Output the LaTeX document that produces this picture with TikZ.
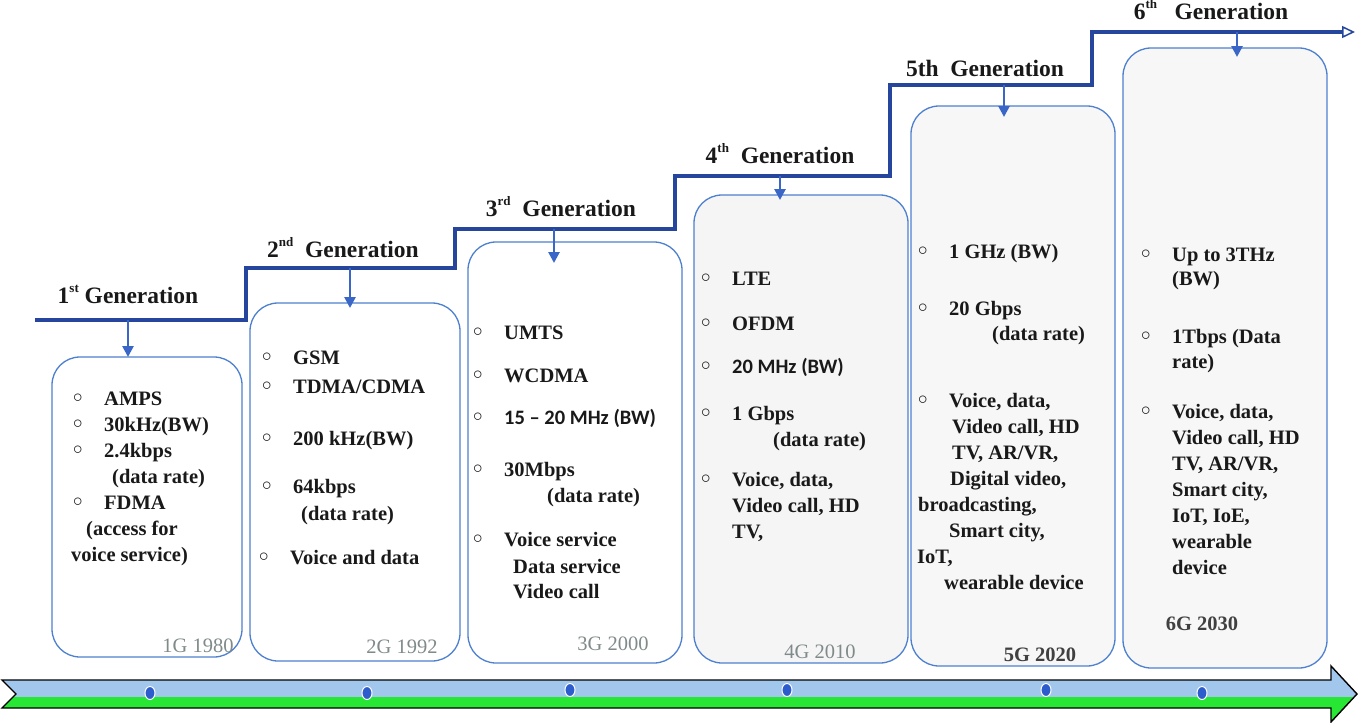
\documentclass[tikz,border=0pt]{standalone}
\usepackage{fontspec}
\setmainfont{Liberation Serif}
\newfontfamily\sansfont{Carlito}
\newfontfamily\symfont{DejaVu Sans}
\usetikzlibrary{arrows.meta,shapes.geometric}
\definecolor{stairblue}{RGB}{38,70,158}
\definecolor{dropblue}{RGB}{58,102,200}
\definecolor{boxblue}{RGB}{78,128,208}
\definecolor{bandblue}{RGB}{162,199,236}
\definecolor{bandgreen}{RGB}{40,230,52}
\definecolor{dotblue}{RGB}{45,92,205}
\definecolor{yeargray}{RGB}{128,138,138}
\newcommand{\bu}{\strut\makebox[33pt][l]{\symfont\fontsize{21}{21}\selectfont ◦}}
\newcommand{\sups}[1]{\raisebox{0.45em}{\fontsize{13}{13}\selectfont #1}}

\begin{document}
\begin{tikzpicture}[x=1pt,y=-1pt,>=Stealth]
\tikzstyle{gen}=[font=\fontsize{23.5}{28}\selectfont\bfseries,text=black!90,anchor=base,inner sep=0]
\tikzstyle{card}=[draw=boxblue,line width=1.3pt,rounded corners=28pt,inner sep=0,outer sep=0]
\tikzstyle{txt}=[font=\fontsize{20.5}{26}\selectfont\bfseries,text=black!90,align=left,anchor=north west,yshift=18.2pt,inner sep=0]
\tikzstyle{year}=[font=\fontsize{20.5}{26}\selectfont,text=yeargray,anchor=base,inner sep=0]
\tikzstyle{drop}=[draw=dropblue,line width=2.6pt,-{Triangle[length=11pt,width=11pt]}]
\tikzstyle{dot}=[ellipse,fill=dotblue,draw=white,line width=1pt,minimum width=10pt,minimum height=13pt,inner sep=0]
\useasboundingbox (0,0) rectangle (1358,723);

\node[card,minimum width=190pt,minimum height=300pt] (b1) at (147,507) {};
\node[card,minimum width=210pt,minimum height=358pt] (b2) at (355,482) {};
\node[card,minimum width=214pt,minimum height=421pt] (b3) at (575,452.5) {};
\node[card,fill=black!4,minimum width=214pt,minimum height=468pt] (b4) at (801,429) {};
\node[card,fill=black!3,minimum width=204pt,minimum height=560pt] (b5) at (1013,386) {};
\node[card,fill=black!3,minimum width=204pt,minimum height=620pt] (b6) at (1225,358) {};

\draw[line width=3.8pt,draw=stairblue,-{Triangle[open,length=13pt,width=12pt,line width=1.5pt]}]
  (35,320) -| (246,268) -| (455,229) -| (675,176) -| (890,85) -| (1092,32) -- (1355,32);
\coordinate (s1) at (128,320);
\coordinate (s2) at (350,268);
\coordinate (s3) at (554,229);
\coordinate (s4) at (780,176);
\coordinate (s5) at (1004,85);
\coordinate (s6) at (1237,32);
\draw[drop] (s1) -- (s1 |- b1.north);
\draw[drop,shorten >=-5pt] (s2) -- (s2 |- b2.north);
\draw[drop,shorten >=-21pt] (s3) -- (s3 |- b3.north);
\draw[drop,shorten >=-5pt] (s4) -- (s4 |- b4.north);
\draw[drop,shorten >=-11pt] (s5) -- (s5 |- b5.north);
\draw[drop,shorten >=-9pt] (s6) -- (s6 |- b6.north);

\node[gen] (g1) at (128,303) {1\sups{st} Generation};
\node[gen] (g2) at (343,257) {2\sups{nd}\ \ Generation};
\node[gen] (g3) at (561,216) {3\sups{rd}\ \ Generation};
\node[gen] (g4) at (780,163) {4\sups{th}\ \ Generation};
\node[gen] (g5) at (985,76) {5th\ \ Generation};
\node[gen] (g6) at (1211,19) {6\sups{th}\ \ \ Generation};

\node[txt] (c1) at (71,405) {\bu AMPS\\
\bu 30kHz(BW)\\
\bu 2.4kbps\\
\hspace*{41pt}(data rate)\\
\bu FDMA\\
\hspace*{15pt}(access for\\
voice service)};
\node[txt] (c2) at (260,364) {\bu GSM\\[3pt]
\bu TDMA/CDMA\\[26pt]
\bu 200 kHz(BW)\\[22pt]
\bu 64kbps\\[1pt]
\hspace*{41pt}(data rate)\\[18pt]
\hspace*{-3pt}\bu Voice and data};
\node[txt] (c3) at (471,339) {\bu UMTS\\[17pt]
\bu WCDMA\\[16pt]
\bu {\sansfont 15 – 20 MHz (BW)}\\[26pt]
\bu 30Mbps\\
\hspace*{76pt}(data rate)\\[18pt]
\bu Voice service\\[1pt]
\hspace*{42pt}Data service\\[-1pt]
\hspace*{42pt}Video call};
\node[txt] (c4) at (699,285) {\bu LTE\\[19pt]
\bu OFDM\\[17pt]
\bu {\sansfont 20 MHz (BW)}\\[21pt]
\bu 1 Gbps\\
\hspace*{74pt}(data rate)\\[14pt]
\bu Voice, data,\\
\hspace*{33pt}Video call, HD\\
\hspace*{33pt}TV,};
\node[txt] (c5) at (916,258) {\bu 1 GHz (BW)\\[31pt]
\bu 20 Gbps\\[-1pt]
\hspace*{76pt}(data rate)\\[41pt]
\bu Voice, data,\\
\hspace*{36pt}Video call, HD\\
\hspace*{36pt}TV, AR/VR,\\
\hspace*{34pt}Digital video,\\
\hspace*{2pt}broadcasting,\\
\hspace*{33pt}Smart city,\\
\hspace*{1pt}IoT,\\
\hspace*{28pt}wearable device};
\node[txt] (c6) at (1139,261) {\bu Up to 3THz\\[-2pt]
\hspace*{33pt}(BW)\\[32pt]
\bu 1Tbps (Data\\[-1pt]
\hspace*{33pt}rate)\\[24pt]
\bu Voice, data,\\
\hspace*{33pt}Video call, HD\\
\hspace*{33pt}TV, AR/VR,\\
\hspace*{33pt}Smart city,\\
\hspace*{33pt}IoT, IoE,\\
\hspace*{33pt}wearable\\
\hspace*{33pt}device};

\node[year] (y1) at (198,652) {1G 1980};
\node[year] (y2) at (402,653) {2G 1992};
\node[year] (y3) at (613,650) {3G 2000};
\node[year] (y4) at (820,658) {4G 2010};
\node[year,text=black!75,font=\fontsize{20.5}{26}\selectfont\bfseries] (y5) at (1040,661) {5G 2020};
\node[year,text=black!75,font=\fontsize{20.5}{26}\selectfont\bfseries] (y6) at (1202,630) {6G 2030};

\draw[line width=1.4pt,fill=bandgreen,path picture={\fill[bandblue] (0,650) rectangle (1358,697);}]
  (2,680) -- (1331,680) -- (1331,666) -- (1357,694) -- (1331,722) -- (1331,708) -- (2,708) -- (16,694) -- cycle;
\node[dot] (d1) at (150,693) {};
\node[dot] (d2) at (367,693) {};
\node[dot] (d3) at (570,690) {};
\node[dot] (d4) at (787,690) {};
\node[dot] (d5) at (1046,690) {};
\node[dot] (d6) at (1202,693) {};
\end{tikzpicture}
\end{document}
